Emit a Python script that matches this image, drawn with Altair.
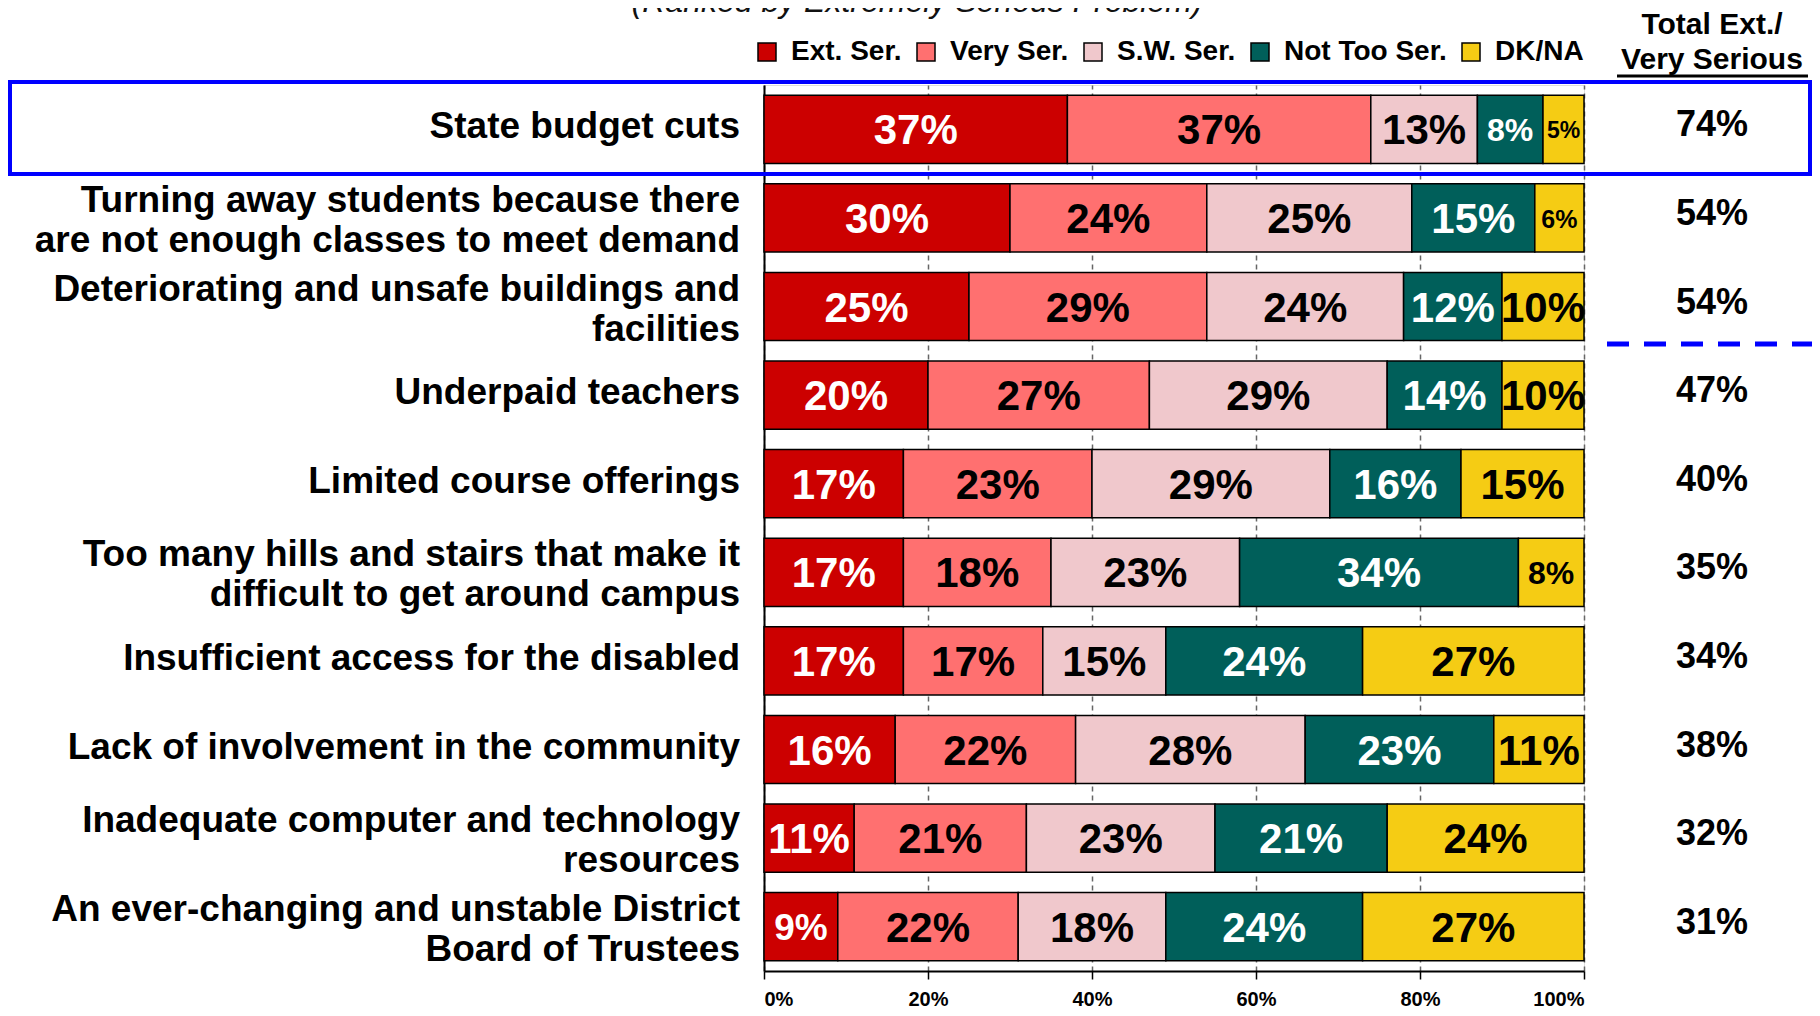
import altair as alt
import pandas as pd

# ---------------- data ----------------
categories = [
    "State budget cuts",
    "Turning away students because there\nare not enough classes to meet demand",
    "Deteriorating and unsafe buildings and\nfacilities",
    "Underpaid teachers",
    "Limited course offerings",
    "Too many hills and stairs that make it\ndifficult to get around campus",
    "Insufficient access for the disabled",
    "Lack of involvement in the community",
    "Inadequate computer and technology\nresources",
    "An ever-changing and unstable District\nBoard of Trustees",
]
series = ["Ext. Ser.", "Very Ser.", "S.W. Ser.", "Not Too Ser.", "DK/NA"]
ext_ser = [37, 30, 25, 20, 17, 17, 17, 16, 11, 9]
very_ser = [37, 24, 29, 27, 23, 18, 17, 22, 21, 22]
sw_ser = [13, 25, 24, 29, 29, 23, 15, 28, 23, 18]
not_too_ser = [8, 15, 12, 14, 16, 34, 24, 23, 21, 24]
dk_na = [5, 6, 10, 10, 15, 8, 27, 11, 24, 27]
total_ext_very = [74, 54, 54, 47, 40, 35, 34, 38, 32, 31]
x_ticks = [0, 20, 40, 60, 80, 100]
subtitle = ["(Ranked by Extremely Serious Problem)"]
header_lines = ["Total Ext./", "Very Serious"]
colors = ["#CC0000", "#FF7070", "#F0C8CC", "#005F5A", "#F5CC14"]

FONT = "Liberation Sans"

# ---------------- tables ----------------
rows = []
for i, cat in enumerate(categories):
    vals = [ext_ser[i], very_ser[i], sw_ser[i], not_too_ser[i], dk_na[i]]
    start = 0
    for s, v in zip(series, vals):
        rows.append({"category": cat, "series": s, "value": v,
                     "start": start, "end": start + v,
                     "mid": start + v / 2, "label": f"{v}%"})
        start += v
df = pd.DataFrame(rows)
tot = pd.DataFrame({"category": categories,
                    "label": [f"{v}%" for v in total_ext_very]})
cats = pd.DataFrame({"category": categories})

y_scale = alt.Scale(paddingInner=0.23, paddingOuter=0.115)
y_enc = alt.Y("category:N", sort=categories, title=None, scale=y_scale,
              axis=alt.Axis(labels=False, ticks=False, domainColor="black",
                            domainWidth=2, grid=False))
y_plain = alt.Y("category:N", sort=categories)

x_scale = alt.Scale(domain=[0, 100], nice=False)

bars = alt.Chart(df).mark_bar(stroke="black", strokeWidth=1.5).encode(
    x=alt.X("start:Q", scale=x_scale, title=None,
            axis=alt.Axis(values=x_ticks, labelExpr="datum.value + '%'",
                          labelFont=FONT, labelFontSize=20, labelFontWeight="bold",
                          labelColor="black", tickColor="black", tickWidth=1.5,
                          tickSize=8, labelPadding=10, domainColor="black",
                          domainWidth=2, grid=True, gridColor="#666666",
                          gridDash=[5, 4], gridWidth=1.5)),
    x2="end:Q",
    y=y_enc,
    color=alt.Color("series:N", sort=series,
                    scale=alt.Scale(domain=series, range=colors),
                    legend=alt.Legend(title=None, orient="none", direction="horizontal",
                                      legendX=-11, legendY=-47,
                                      symbolType="square", symbolSize=324,
                                      symbolStrokeColor="black", symbolStrokeWidth=1.5,
                                      labelFont=FONT, labelFontSize=28,
                                      labelFontWeight="bold", labelColor="black",
                                      labelOffset=10, columnPadding=10,
                                      labelLimit=400)),
)

bar_text = alt.Chart(df).mark_text(font=FONT, fontWeight="bold", baseline="middle",
                                   align="center", dy=2).encode(
    x=alt.X("mid:Q", scale=x_scale),
    y=y_plain,
    text="label:N",
    color=alt.condition("datum.series == 'Ext. Ser.' || datum.series == 'Not Too Ser.'",
                        alt.value("white"), alt.value("black")),
    size=alt.Size("value:Q", legend=None,
                  scale=alt.Scale(type="linear", domain=[5, 6, 8, 9, 10],
                                  range=[23, 25, 32, 37, 42], clamp=True)),
)

# category labels (single-line and two-line rows)
cat_one = alt.Chart(cats).transform_filter(
    "indexof(datum.category, '\\n') < 0").mark_text(
    font=FONT, fontWeight="bold", fontSize=37, align="right", baseline="middle",
    dy=-2, color="black").encode(x=alt.value(-24), y=y_plain, text="category:N")
cat_two = alt.Chart(cats).transform_filter(
    "indexof(datum.category, '\\n') >= 0").mark_text(
    font=FONT, fontWeight="bold", fontSize=37, align="right", baseline="middle",
    dy=-17, lineBreak="\n", lineHeight=40, color="black").encode(
    x=alt.value(-24), y=y_plain, text="category:N")

tot_text = alt.Chart(tot).mark_text(font=FONT, fontWeight="bold", fontSize=36,
                                    baseline="middle", align="center", dy=-4,
                                    color="black").encode(
    x=alt.value(948), y=y_plain, text="label:N")

hdr = pd.DataFrame({"t": header_lines, "yy": [-51, -16]})
header = alt.Chart(hdr).mark_text(font=FONT, fontWeight="bold", fontSize=30,
                                  baseline="alphabetic", align="center",
                                  color="black").encode(
    x=alt.value(948), y=alt.Y("yy:Q", scale=None), text="t:N")

underline = alt.Chart(pd.DataFrame({"a": [0]})).mark_rule(
    color="black", strokeWidth=3).encode(
    x=alt.value(853), x2=alt.value(1044), y=alt.value(-9))

title = alt.Chart(pd.DataFrame({"t": subtitle})).mark_text(
    font=FONT, fontStyle="italic", fontSize=32, baseline="alphabetic",
    align="center", color="#111111").encode(
    x=alt.value(153), y=alt.value(-73), text="t:N")

box = alt.Chart(pd.DataFrame({"a": [0]})).mark_rect(
    fillOpacity=0, stroke="#0000FF", strokeWidth=4).encode(
    x=alt.value(-754), x2=alt.value(1046), y=alt.value(-3), y2=alt.value(89))

dash = alt.Chart(pd.DataFrame({"a": [0]})).mark_rule(
    color="#0000FF", strokeWidth=5, strokeDash=[22, 15]).encode(
    x=alt.value(843), x2=alt.value(1060), y=alt.value(259))

chart = alt.layer(bars, bar_text, cat_one, cat_two, tot_text, header, underline,
                  title, box, dash).properties(
    width=820, height=886,
    autosize=alt.AutoSizeParams(type="none"),
    padding={"left": 756, "top": 77, "right": 228, "bottom": 37},
).configure_view(stroke="#333333", strokeWidth=1).configure(background="white")

chart.save("out.html", embed_options={"renderer": "svg", "actions": False})
